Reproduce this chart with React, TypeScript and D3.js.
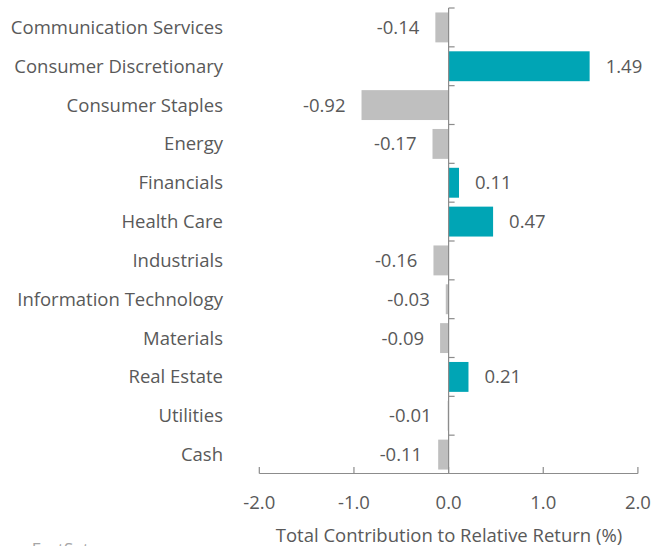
import React from "react";
import * as d3 from "d3";

const categories = [
  "Communication Services",
  "Consumer Discretionary",
  "Consumer Staples",
  "Energy",
  "Financials",
  "Health Care",
  "Industrials",
  "Information Technology",
  "Materials",
  "Real Estate",
  "Utilities",
  "Cash",
];
const values = [-0.14, 1.49, -0.92, -0.17, 0.11, 0.47, -0.16, -0.03, -0.09, 0.21, -0.01, -0.11];
const xTicks = [-2, -1, 0, 1, 2];
const axisTitle = "Total Contribution to Relative Return (%)";
const sourceText = "Source: FactSet";

const W = 653;
const H = 546;
const FONT = "'Open Sans', sans-serif";
const FS = 18.5;
const TEXT = "#595959";
const AXIS = "#8c8c8c";
const POS = "#00A5B5";
const NEG = "#BFBFBF";

export default function App() {
  const x = d3.scaleLinear().domain([-2, 2]).range([259.3, 637.9]);
  const y = d3.scaleBand<string>().domain(categories).range([8, 474]).paddingInner(0.23).paddingOuter(0.115);
  const step = y.step();
  const x0 = x(0);
  const axisY = 473.5;
  const boundaries = d3.range(categories.length).map((i) => 8 + i * step);

  return (
    <svg width={W} height={H} style={{ position: "absolute", left: 0, top: 0 }} fontFamily={FONT}>
      <rect width={W} height={H} fill="#fff" />
      {categories.map((c, i) => {
        const v = values[i];
        const bx = Math.min(x(v), x0);
        const bw = Math.abs(x(v) - x0);
        const cy = (y(c) as number) + y.bandwidth() / 2;
        return (
          <g key={c}>
            <rect x={bx} y={y(c)} width={bw} height={y.bandwidth()} fill={v >= 0 ? POS : NEG} />
            <text x={223} y={cy} dy="0.35em" textAnchor="end" fontSize={FS} fill={TEXT}>
              {c}
            </text>
            <text
              x={v >= 0 ? x(v) + 16 : x(v) - 16}
              y={cy}
              dy="0.35em"
              textAnchor={v >= 0 ? "start" : "end"}
              fontSize={FS}
              fill={TEXT}
            >
              {v.toFixed(2)}
            </text>
          </g>
        );
      })}
      {/* vertical axis */}
      <line x1={x0} x2={x0} y1={8} y2={axisY} stroke={AXIS} strokeWidth={1.2} />
      {boundaries.map((b, i) => (
        <line key={i} x1={x0} x2={x0 + 6} y1={b} y2={b} stroke={AXIS} strokeWidth={1.2} />
      ))}
      {/* horizontal axis */}
      <line x1={x(-2)} x2={x(2)} y1={axisY} y2={axisY} stroke={AXIS} strokeWidth={1.2} />
      {xTicks.map((t) => (
        <g key={t}>
          <line x1={x(t)} x2={x(t)} y1={axisY} y2={axisY - 6.5} stroke={AXIS} strokeWidth={1.2} />
          <text x={x(t)} y={508.5} textAnchor="middle" fontSize={FS} fill={TEXT}>
            {t.toFixed(1)}
          </text>
        </g>
      ))}
      <text x={449} y={542} textAnchor="middle" fontSize={FS} fill={TEXT}>
        {axisTitle}
      </text>
      <text x={89} y={554.5} textAnchor="end" fontSize={17} fill="#a6a6a6">
        {sourceText}
      </text>
    </svg>
  );
}
